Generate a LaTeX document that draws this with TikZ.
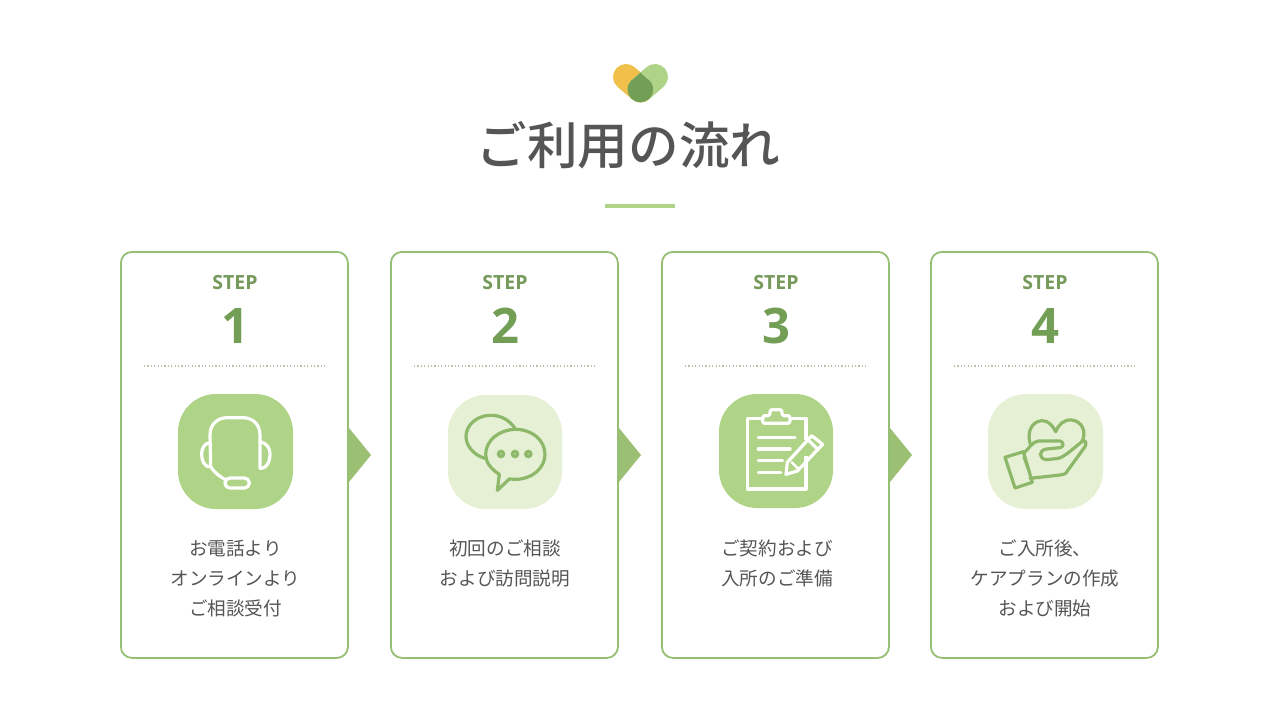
\documentclass[tikz,border=0pt]{standalone}
\usepackage{fontspec}
\newfontfamily\jp{Noto Sans CJK JP}
\newfontfamily\jpm{Noto Sans CJK JP Medium}
\setmainfont{Open Sans}
\definecolor{gLight}{HTML}{B0D487}
\definecolor{gPale}{HTML}{E6F0D5}
\definecolor{gBorder}{HTML}{95BF72}
\definecolor{gArrow}{HTML}{9CC073}
\definecolor{gDark}{HTML}{739E55}
\definecolor{gIcon}{HTML}{8DB86A}
\definecolor{gYellow}{HTML}{F0C04A}
\definecolor{tx}{HTML}{555555}
\definecolor{gDot}{HTML}{BCC1AE}
\tikzset{
  card/.style={draw=gBorder,line width=1.8pt,rounded corners=11pt,fill=white,minimum width=227pt,minimum height=406pt,inner sep=0pt,anchor=north west},
  steptxt/.style={text=gDark!85!gray,font=\bfseries\fontsize{19.5}{22}\selectfont,inner sep=0pt,anchor=base},
  numtxt/.style={text=gDark,font=\bfseries\fontsize{49}{54}\selectfont,inner sep=0pt,anchor=base},
  desc/.style={text=tx,font=\jp\fontsize{18.6}{18.6}\selectfont,inner sep=0pt,anchor=base},
  dotline/.style={gDot,line width=1.2pt,dash pattern=on 1.2pt off 2.2pt},
  tile/.style={rounded corners=38pt},
  iconw/.style={draw=white,line width=3.2pt,line cap=round,line join=round},
  icong/.style={draw=gIcon,line width=3.2pt,line cap=round,line join=round},
  tri/.style={fill=gArrow,draw=none}
}
\begin{document}
\begin{tikzpicture}[x=1pt,y=-1pt]
\useasboundingbox (0,0) rectangle (1280,720);
\fill[white] (0,0) rectangle (1280,720);
% logo
\draw[gYellow,line width=26pt,line cap=round] (626,77) -- (640.5,89.5);
\draw[gLight,line width=26pt,line cap=round] (655,77) -- (640.5,89.5);
\fill[gDark] (640.4,89.5) circle[radius=12.8pt];
\fill[gDark] (640.4,72.5) .. controls (644,77) and (653.2,82) .. (653.2,89.5) -- (627.6,89.5) .. controls (627.6,82) and (636.8,77) .. cycle;
% title
\node[text=tx,font=\jpm\fontsize{50.6}{50.6}\selectfont,inner sep=0pt,anchor=base] (title) at (628.5,164) {ご利用の流れ};
\fill[gLight] (605,204) rectangle (675,208);
% cards
\node[card] (c1) at (120,251) {};
\node[card] (c2) at (390,251) {};
\node[card] (c3) at (661,251) {};
\node[card] (c4) at (930,251) {};
% arrows
\fill[tri] (349,428) -- (371,455) -- (349,482) -- cycle;
\fill[tri] (619,428) -- (641,455) -- (619,482) -- cycle;
\fill[tri] (890,428) -- (912,455) -- (890,482) -- cycle;
% STEP labels
\node[steptxt] (s1) at (235,289) {STEP};
\node[steptxt] (s2) at (505,289) {STEP};
\node[steptxt] (s3) at (776,289) {STEP};
\node[steptxt] (s4) at (1045,289) {STEP};
\node[numtxt] (n1) at (235,343.5) {1};
\node[numtxt] (n2) at (505,343.5) {2};
\node[numtxt] (n3) at (776,343.5) {3};
\node[numtxt] (n4) at (1045,343.5) {4};
% dotted
\draw[dotline] (144,366) -- (327,366);
\draw[dotline] (414,366) -- (597,366);
\draw[dotline] (685,366) -- (868,366);
\draw[dotline] (954,366) -- (1137,366);
% tiles
\fill[gLight,tile] (178,394) rectangle (293,509);
\fill[gPale,tile] (448,395) rectangle (562,509);
\fill[gLight,tile] (719,394) rectangle (833,508);
\fill[gPale,tile] (988,394) rectangle (1103,509);
% headset
\begin{scope}[shift={(170,385)},scale=1/3]
\draw[iconw] (122,245) -- (120,150) .. controls (120,118) and (142,98) .. (172,98) -- (218,98) .. controls (250,98) and (270,120) .. (270,150) -- (270,250);
\draw[iconw] (120,172) .. controls (103,176) and (95,190) .. (95,205) .. controls (95,230) and (105,248) .. (122,245);
\draw[iconw] (270,170) .. controls (290,174) and (300,190) .. (300,205) .. controls (300,230) and (292,250) .. (270,250);
\draw[iconw] (122,245) .. controls (135,265) and (150,275) .. (168,285);
\draw[iconw,rounded corners=4.8pt] (165,279) rectangle (238,309);
\end{scope}
% chat
\begin{scope}[shift={(440,385)},scale=1/3]
\draw[icong] (225,130) .. controls (205,100) and (175,90) .. (150,91) .. controls (110,92) and (78,120) .. (78,155) .. controls (78,185) and (105,212) .. (135,220);
\draw[icong] (178,268) .. controls (150,250) and (137,230) .. (137,208) .. controls (137,165) and (180,133) .. (227,133) .. controls (275,133) and (315,165) .. (315,208) .. controls (315,250) and (275,283) .. (227,283) .. controls (220,283) and (215,283) .. (208,282) -- (172,316) -- cycle;
\foreach \x in {183,225,265} {\fill[gIcon] (\x,207) circle[radius=13pt]; \fill[gIcon!65!gPale] (\x,207) circle[radius=4pt];}
\end{scope}
% clipboard
\begin{scope}[shift={(710,385)},scale=1/3]
\draw[iconw,line cap=butt] (158,100) -- (112,100) -- (112,312) -- (288,312) -- (288,212);
\draw[iconw,line cap=butt] (288,165) -- (288,100) -- (242,100);
\draw[iconw,rounded corners=2.2pt] (158,92) -- (180,92) -- (180,74) -- (216,74) -- (216,92) -- (240,92) -- (240,115) -- (158,115) -- cycle;
\draw[iconw] (145,157) -- (255,157);
\draw[iconw] (145,192) -- (240,192);
\draw[iconw] (145,227) -- (218,227);
\draw[iconw] (145,262) -- (212,262);
\draw[iconw] (232,232) -- (305,152) -- (338,178) -- (262,258) -- (228,268) -- cycle;
\draw[iconw] (295,165) -- (325,195);
\draw[iconw,line width=2.4pt] (245,232) -- (263,250);
\end{scope}
% hand and heart
\begin{scope}[shift={(980,385)},scale=1/3]
\draw[icong] (152,180) .. controls (140,150) and (150,110) .. (185,107) .. controls (205,105) and (220,125) .. (227,140) .. controls (235,120) and (250,103) .. (275,105) .. controls (305,108) and (322,140) .. (305,172);
\draw[icong] (75,217) -- (130,200) -- (157,292) -- (105,309) -- cycle;
\draw[icong] (130,205) .. controls (145,195) and (155,170) .. (175,168) -- (240,168) .. controls (252,170) and (252,187) .. (240,188) -- (200,192) .. controls (175,195) and (175,222) .. (200,224) -- (235,220) .. controls (255,215) and (280,190) .. (308,168) .. controls (318,165) and (320,175) .. (315,185) -- (262,258) .. controls (258,268) and (250,268) .. (240,270) -- (150,280);
\draw[icong] (132,215) -- (145,252);
\end{scope}
% descriptions
\node[desc] (d1a) at (235.5,555.5) {お電話より};
\node[desc] (d1b) at (235.5,585.5) {オンラインより};
\node[desc] (d1c) at (235.5,615.5) {ご相談受付};
\node[desc] (d2a) at (505,555.5) {初回のご相談};
\node[desc] (d2b) at (505,585.5) {および訪問説明};
\node[desc] (d3a) at (777,555.5) {ご契約および};
\node[desc] (d3b) at (777,585.5) {入所のご準備};
\node[desc] (d4a) at (1045,555.5) {ご入所後、};
\node[desc] (d4b) at (1045,585.5) {ケアプランの作成};
\node[desc] (d4c) at (1045,615.5) {および開始};
\end{tikzpicture}
\end{document}
